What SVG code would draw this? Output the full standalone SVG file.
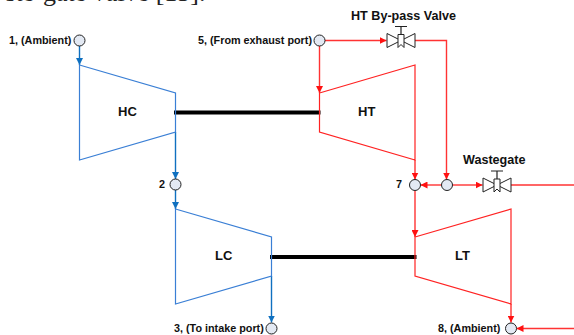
<svg xmlns="http://www.w3.org/2000/svg" width="574" height="335" viewBox="0 0 574 335">
<style>
text{font-family:"Liberation Sans",Arial,sans-serif;font-weight:bold;fill:#111}
.l{font-size:10.800px}.m{font-size:12.600px}.b{font-size:13px}
.n{fill:#e3e9f3;stroke:#222;stroke-width:1}
.bt{fill:none;stroke:#3a7fd5;stroke-width:1.2}
.rt{fill:none;stroke:#f22;stroke-width:1.200}
.bc{fill:none;stroke:#0f70c0;stroke-width:1.400}
.rc{fill:none;stroke:#f33;stroke-width:1.400}
.v{fill:#fff;stroke:#222;stroke-width:1}
.s{fill:none;stroke:#000;stroke-width:4}
</style>
<defs>
<marker id="ab" markerUnits="userSpaceOnUse" markerWidth="8" markerHeight="7" refX="7" refY="3.500" orient="auto"><path d="M0 0L7 3.500L0 7Z" fill="#0f70c0"/></marker>
<marker id="ar" markerUnits="userSpaceOnUse" markerWidth="8" markerHeight="7" refX="7" refY="3.500" orient="auto"><path d="M0 0L7 3.500L0 7Z" fill="#f11"/></marker>
<g id="valve"><path class="v" d="M-14 -7L14 7V-7L-14 7Z"/><path class="v" d="M-3 -6H3V7L0 4L-3 7Z"/><path d="M0 -14V-6M-6 -14H6" fill="none" stroke="#222" stroke-width="1.200"/></g>
</defs>
<text x="5.500" y="0.500" style="font-family:'Liberation Serif',serif;font-weight:normal;font-size:26px;fill:#222">ste-gate valve [15].</text>
<g id="connectors">
<path class="s" d="M174 112.500H320.500"/>
<path class="s" d="M270 257H416.500"/>
<path class="bc" d="M79.500 46V65" marker-end="url(#ab)"/>
<path class="bc" d="M175.500 132V179" marker-end="url(#ab)"/>
<path class="bc" d="M175.500 190V209" marker-end="url(#ab)"/>
<path class="bc" d="M271.500 276V322.500" marker-end="url(#ab)"/>
<path class="rc" d="M325 40.500H386.500" marker-end="url(#ar)"/>
<path class="rc" d="M319.500 46V93" marker-end="url(#ar)"/>
<path class="rc" d="M415 40.500H446.500V179.500" marker-end="url(#ar)"/>
<path class="rc" d="M415 160V179.500" marker-end="url(#ar)"/>
<path class="rc" d="M441.500 185H420.500" marker-end="url(#ar)"/>
<path class="rc" d="M452.500 185H482.500" marker-end="url(#ar)"/>
<path class="rc" d="M511 185H574"/>
<path class="rc" d="M415 190.500V237" marker-end="url(#ar)"/>
<path class="rc" d="M511 304V322.500" marker-end="url(#ar)"/>
<path class="rc" d="M574 328.500H516.500" marker-end="url(#ar)"/>
</g>
<g id="HC"><path class="bt" d="M79.500 65L175.500 93V132L79.500 160Z"/><text class="b" x="118" y="116">HC</text></g>
<g id="LC"><path class="bt" d="M175.500 209L271.500 237V276L175.500 304Z"/><text class="b" x="215" y="260">LC</text></g>
<g id="HT"><path class="rt" d="M319.500 93L415 65V160L319.500 132Z"/><text class="b" x="358" y="116">HT</text></g>
<g id="LT"><path class="rt" d="M415 237L511 209V304L415 276Z"/><text class="b" x="455" y="260">LT</text></g>
<g id="node1"><circle class="n" cx="79.500" cy="40.500" r="5.500"/><text class="l" x="9" y="44">1, (Ambient)</text></g>
<g id="node5"><circle class="n" cx="319.500" cy="40.500" r="5.500"/><text class="l" x="198" y="44">5, (From exhaust port)</text></g>
<g id="node2"><circle class="n" cx="175.500" cy="184.500" r="5.500"/><text class="l" x="159" y="188">2</text></g>
<g id="node3"><circle class="n" cx="271.500" cy="328.500" r="5.500"/><text class="l" x="174" y="332">3, (To intake port)</text></g>
<g id="node7"><circle class="n" cx="415" cy="185" r="5.500"/><text class="l" x="396" y="188">7</text></g>
<g id="junction"><circle class="n" cx="447" cy="185" r="5.500"/></g>
<g id="node8"><circle class="n" cx="511" cy="328.500" r="5.500"/><text class="l" x="438" y="332">8, (Ambient)</text></g>
<g id="bypass"><use href="#valve" x="401" y="40.500"/><text class="m" x="351" y="20">HT By-pass Valve</text></g>
<g id="wastegate"><use href="#valve" x="497" y="185"/><text class="m" x="463" y="164">Wastegate</text></g>
</svg>
